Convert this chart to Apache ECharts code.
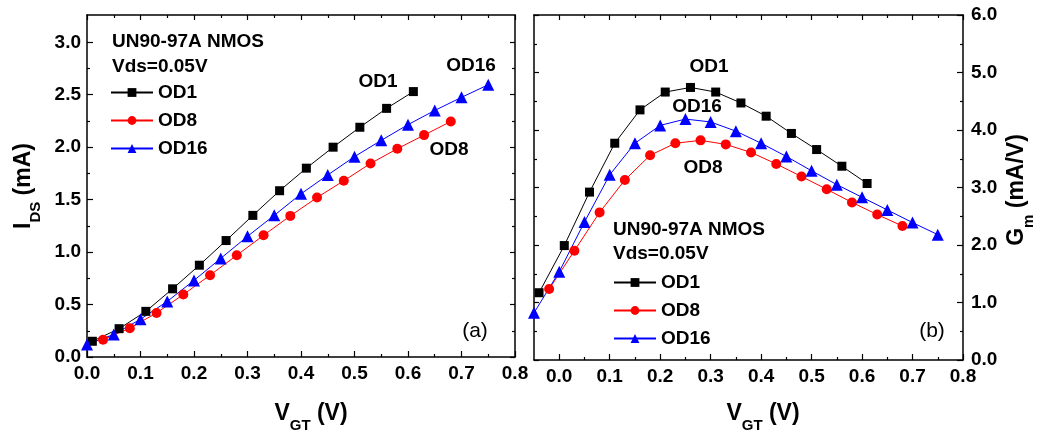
<!DOCTYPE html>
<html><head><meta charset="utf-8">
<script src="https://cdn.jsdelivr.net/npm/echarts@6/dist/echarts.min.js"></script>
<style>html,body{margin:0;padding:0;background:#fff}#c{width:1042px;height:434px}</style>
</head><body><div id="c"></div>
<script>
const FONT = '"Liberation Sans", Arial, sans-serif';

// ---- Panel (a): I_DS vs V_GT ----
const vgtA_OD1  = [0.01,0.06,0.11,0.16,0.21,0.26,0.31,0.36,0.41,0.46,0.51,0.56,0.61];
const idsA_OD1  = [0.15,0.27,0.435,0.65,0.875,1.11,1.35,1.585,1.80,2.00,2.19,2.37,2.53];
const vgtA_OD8  = [0.03,0.08,0.13,0.18,0.23,0.28,0.33,0.38,0.43,0.48,0.53,0.58,0.63,0.68];
const idsA_OD8  = [0.165,0.275,0.42,0.595,0.78,0.97,1.16,1.345,1.52,1.68,1.845,1.985,2.115,2.245];
const vgtA_OD16 = [0.00,0.05,0.10,0.15,0.20,0.25,0.30,0.35,0.40,0.45,0.50,0.55,0.60,0.65,0.70,0.75];
const idsA_OD16 = [0.12,0.215,0.36,0.53,0.73,0.94,1.15,1.35,1.555,1.735,1.91,2.065,2.215,2.35,2.475,2.595];

// ---- Panel (b): Gm vs V_GT ----
const vgtB_OD1  = [-0.04,0.01,0.06,0.11,0.16,0.21,0.26,0.31,0.36,0.41,0.46,0.51,0.56,0.61];
const gmB_OD1   = [1.17,1.99,2.92,3.77,4.35,4.66,4.74,4.66,4.47,4.24,3.94,3.66,3.37,3.07];
const vgtB_OD8  = [-0.02,0.03,0.08,0.13,0.18,0.23,0.28,0.33,0.38,0.43,0.48,0.53,0.58,0.63,0.68];
const gmB_OD8   = [1.234,1.90,2.567,3.13,3.56,3.77,3.82,3.75,3.61,3.41,3.19,2.97,2.74,2.53,2.33];
const vgtB_OD16 = [-0.05,0.00,0.05,0.10,0.15,0.20,0.25,0.30,0.35,0.40,0.45,0.50,0.55,0.60,0.65,0.70,0.75];
const gmB_OD16  = [0.82,1.535,2.40,3.22,3.77,4.08,4.19,4.14,3.98,3.77,3.54,3.29,3.05,2.83,2.61,2.39,2.18];

// ---- Tick labels ----
const xTicksA = [0.0,0.1,0.2,0.3,0.4,0.5,0.6,0.7,0.8];
const yTicksA = [0.0,0.5,1.0,1.5,2.0,2.5,3.0];
const xTicksB = [0.0,0.1,0.2,0.3,0.4,0.5,0.6,0.7,0.8];
const yTicksB = [0.0,1.0,2.0,3.0,4.0,5.0,6.0];

const seriesNames = ['OD1','OD8','OD16'];
const legendTitle = 'UN90-97A NMOS';
const legendSub = 'Vds=0.05V';

function mids(arr){ const m=[]; for(let i=0;i<arr.length-1;i++) m.push((arr[i]+arr[i+1])/2); return m; }
function pairs(xs, ys){ return xs.map((x,i)=>[x, ys[i]]); }

const grids = [
  {left:87, top:15, width:428, height:342},
  {left:534, top:15, width:429, height:345}
];

const xAxes = [], yAxes = [];
function addAxes(list, gridIndex, min, max, majors, posMain, posOther, labelCfg){
  const base = {type:'value', gridIndex, min, max, splitLine:{show:false}, silent:true};
  const tickStyle = {color:'#000', width:1.2};
  const idx = list.length;
  list.push(Object.assign({}, base, {position:posMain,
    axisLine:{show:true, onZero:false, lineStyle:{color:'#000', width:1.5}},
    axisTick:{show:true, inside:true, length:6, customValues:majors, lineStyle:tickStyle},
    axisLabel:Object.assign({show:true, customValues:majors, color:'#000', fontSize:19,
      fontWeight:'bold', fontFamily:FONT, formatter:v=>Number(v).toFixed(1)}, labelCfg)}));
  list.push(Object.assign({}, base, {position:posMain,
    axisLine:{show:false, onZero:false},
    axisTick:{show:true, inside:true, length:3, customValues:mids(majors), lineStyle:tickStyle},
    axisLabel:{show:false}}));
  list.push(Object.assign({}, base, {position:posOther,
    axisLine:{show:true, onZero:false, lineStyle:{color:'#000', width:1.5}},
    axisTick:{show:true, inside:true, length:5, customValues:majors, lineStyle:tickStyle},
    axisLabel:{show:false}}));
  list.push(Object.assign({}, base, {position:posOther,
    axisLine:{show:false, onZero:false},
    axisTick:{show:true, inside:true, length:3, customValues:mids(majors), lineStyle:tickStyle},
    axisLabel:{show:false}}));
  return idx;
}
const xA = addAxes(xAxes, 0, 0, 0.8, xTicksA, 'bottom', 'top', {margin:7});
const yA = addAxes(yAxes, 0, 0, 3.26, yTicksA, 'left', 'right', {margin:6});
const xB = addAxes(xAxes, 1, -0.05, 0.8, xTicksB, 'bottom', 'top', {margin:7});
const yB = addAxes(yAxes, 1, 0, 6.0, yTicksB, 'right', 'left', {margin:8});

const styles = {
  OD1:  {color:'#000000', symbol:'rect', size:9},
  OD8:  {color:'#ff0000', symbol:'circle', size:10},
  OD16: {color:'#0000ff', symbol:'triangle', size:12}
};
function mk(name, xs, ys, xi, yi){
  const s = styles[name];
  return {type:'line', name, data:pairs(xs, ys), xAxisIndex:xi, yAxisIndex:yi,
    symbol:s.symbol, symbolSize:s.size, showSymbol:true, clip:false,
    lineStyle:{color:s.color, width:1}, itemStyle:{color:s.color},
    emphasis:{disabled:true}, animation:false};
}
const series = [
  mk('OD1', vgtA_OD1, idsA_OD1, xA, yA),
  mk('OD8', vgtA_OD8, idsA_OD8, xA, yA),
  mk('OD16', vgtA_OD16, idsA_OD16, xA, yA),
  mk('OD1', vgtB_OD1, gmB_OD1, xB, yB),
  mk('OD8', vgtB_OD8, gmB_OD8, xB, yB),
  mk('OD16', vgtB_OD16, gmB_OD16, xB, yB)
];

function legendCfg(left, top){
  return {data:seriesNames, orient:'vertical', left, top, padding:0, itemWidth:42, itemHeight:11,
    itemGap:9, selectedMode:false,
    textStyle:{fontSize:19, fontWeight:'bold', color:'#000', fontFamily:FONT, lineHeight:18}};
}

function txt(text, x, y, align, size, weight){
  return {type:'text', x, y, silent:true,
    style:{text, align:align||'center', verticalAlign:'middle', fontSize:size||19,
      fontWeight:weight||'bold', fontFamily:FONT, fill:'#000'}};
}
function title(main, sub, tail, x, y, rot){
  return {type:'text', x, y, rotation:rot||0, silent:true,
    style:{text:'{m|'+main+'}{s|'+sub+'}{m|'+tail+'}', align:'center', verticalAlign:'middle',
      rich:{
        m:{fontSize:23, fontWeight:'bold', fontFamily:FONT, fill:'#000', lineHeight:23, verticalAlign:'top'},
        s:{fontSize:15, fontWeight:'bold', fontFamily:FONT, fill:'#000', lineHeight:15, verticalAlign:'top', padding:[16,0,0,0]}
      }}};
}

const chart = echarts.init(document.getElementById('c'), null, {renderer:'canvas'});
chart.setOption({
  animation:false,
  backgroundColor:'#fff',
  grid:grids,
  xAxis:xAxes,
  yAxis:yAxes,
  legend:[legendCfg(110, 83), legendCfg(613, 273)],
  series,
  graphic:[
    txt(legendTitle, 112, 42, 'left'),
    txt(legendSub, 112, 67, 'left'),
    txt('OD1', 378, 82), txt('OD16', 471, 66), txt('OD8', 449, 150),
    txt('(a)', 475, 331, 'center', 21, 'normal'),
    txt(legendTitle, 613, 230, 'left'),
    txt(legendSub, 613, 254, 'left'),
    txt('OD1', 709, 67), txt('OD16', 697, 107), txt('OD8', 703, 168),
    txt('(b)', 932, 331, 'center', 21, 'normal'),
    title('V', 'GT', ' (V)', 311, 414, 0),
    title('V', 'GT', ' (V)', 763, 414, 0),
    title('I', 'DS', ' (mA)', 24, 186, Math.PI/2),
    title('G', 'm', ' (mA/V)', 1017, 190, Math.PI/2)
  ]
});
</script></body></html>
